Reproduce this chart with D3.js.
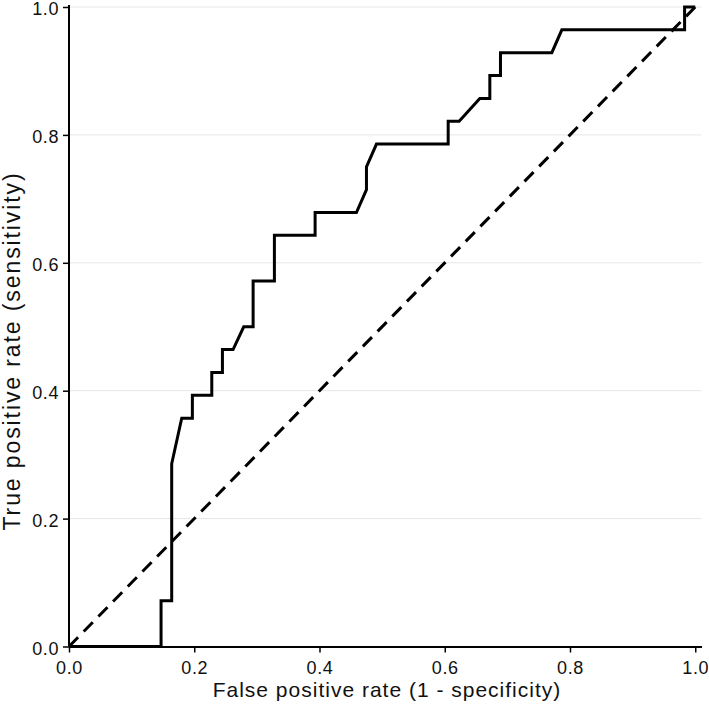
<!DOCTYPE html>
<html>
<head>
<meta charset="utf-8">
<script src="https://cdn.jsdelivr.net/npm/d3@7"></script>
<style>
  html, body { margin: 0; padding: 0; background: #fff; }
  svg { display: block; font-family: "Liberation Sans", Arial, sans-serif; }
</style>
</head>
<body>
<svg id="chart" width="709" height="708"></svg>
<script>
// ROC curve points (false positive rate, true positive rate)
const fpr = [0, 0.147, 0.147, 0.164, 0.164, 0.180, 0.197, 0.197, 0.228, 0.228, 0.245, 0.245, 0.262, 0.279, 0.294, 0.294, 0.328, 0.328, 0.393, 0.393, 0.459, 0.475, 0.475, 0.491, 0.6055, 0.6055, 0.623, 0.656, 0.672, 0.672, 0.689, 0.689, 0.771, 0.787, 0.983, 0.983, 1.0];
const tpr = [0, 0, 0.0714, 0.0714, 0.2857, 0.3571, 0.3571, 0.3929, 0.3929, 0.4286, 0.4286, 0.4643, 0.4643, 0.5, 0.5, 0.5714, 0.5714, 0.6429, 0.6429, 0.6786, 0.6786, 0.7143, 0.75, 0.7857, 0.7857, 0.8214, 0.8214, 0.8571, 0.8571, 0.8929, 0.8929, 0.9286, 0.9286, 0.9643, 0.9643, 1.0, 1.0];
// reference diagonal
const refLine = [0, 1.008];
const xTicks = [0, 0.2, 0.4, 0.6, 0.8, 1.0];
const yTicks = [0, 0.2, 0.4, 0.6, 0.8, 1.0];
const xTitle = "False positive rate (1 - specificity)";
const yTitle = "True positive rate (sensitivity)";

const svg = d3.select("#chart");
const x = d3.scaleLinear().domain([0, 1.01]).range([69, 701.5]);
const y = d3.scaleLinear().domain([0, 1]).range([646.5, 7]);

// grid lines
svg.append("g").selectAll("line")
  .data(yTicks.filter(d => d > 0))
  .join("line")
  .attr("x1", x(0)).attr("x2", x(1.01))
  .attr("y1", d => y(d)).attr("y2", d => y(d))
  .attr("stroke", "#e6e6e6").attr("stroke-width", 1);

// axes
const xAxis = svg.append("g")
  .attr("transform", `translate(0,${y(0)})`)
  .call(d3.axisBottom(x).tickValues(xTicks).tickFormat(d3.format(".1f")).tickSize(6).tickSizeOuter(0));
const yAxis = svg.append("g")
  .attr("transform", `translate(${x(0)},0)`)
  .call(d3.axisLeft(y).tickValues(yTicks).tickFormat(d3.format(".1f")).tickSize(6).tickSizeOuter(0));

[xAxis, yAxis].forEach(g => {
  g.select(".domain").attr("stroke", "#000").attr("stroke-width", 2);
  g.selectAll(".tick line").attr("stroke", "#000").attr("stroke-width", 1.5);
  g.selectAll(".tick text").attr("fill", "#111").style("font-size", "18px")
    .style("letter-spacing", "0.6px")
    .style("font-family", "'Liberation Sans', Arial, sans-serif");
});
xAxis.selectAll(".tick text").attr("dy", null).attr("y", 27.5);
yAxis.selectAll(".tick text").attr("x", -10).attr("dy", "0.42em");
// extend y axis line slightly above 1.0
yAxis.select(".domain").attr("d", `M0,${y(0)}V5`);

// diagonal reference line
svg.append("line")
  .attr("x1", x(refLine[0])).attr("y1", y(refLine[0]))
  .attr("x2", x(refLine[1])).attr("y2", y(refLine[1]))
  .attr("stroke", "#000").attr("stroke-width", 3)
  .attr("stroke-dasharray", "13,8");

// ROC curve
const pts = fpr.map((f, i) => [f, tpr[i]]);
svg.append("path")
  .datum(pts)
  .attr("fill", "none")
  .attr("stroke", "#000")
  .attr("stroke-width", 3)
  .attr("stroke-linejoin", "miter")
  .attr("d", d3.line().x(d => x(d[0])).y(d => y(d[1])));

// axis titles
svg.append("text")
  .attr("x", 387).attr("y", 697)
  .attr("text-anchor", "middle")
  .style("font-size", "21px").style("letter-spacing", "1px").attr("fill", "#111")
  .text(xTitle);
svg.append("text")
  .attr("transform", "translate(19.5,351) rotate(-90)")
  .attr("text-anchor", "middle")
  .style("font-size", "23px").style("letter-spacing", "1.9px").attr("fill", "#111")
  .text(yTitle);
</script>
</body>
</html>
